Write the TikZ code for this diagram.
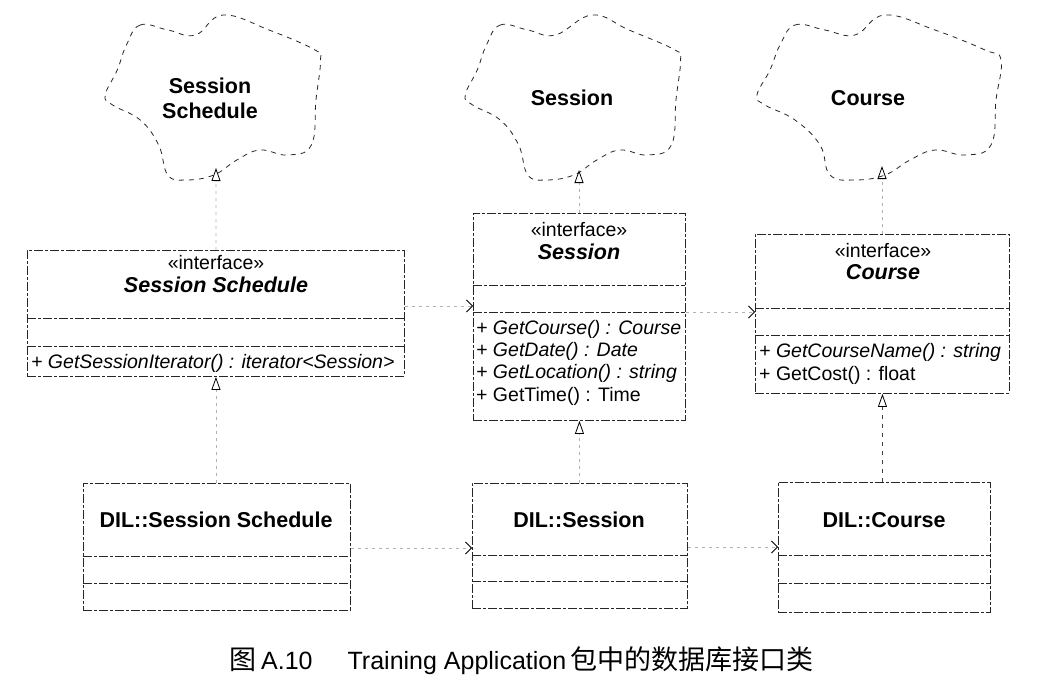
\documentclass[tikz,border=0pt]{standalone}
\usepackage{fontspec}
\setmainfont{Liberation Sans}
\newfontfamily\cjkfont{Noto Sans CJK SC}
\usetikzlibrary{arrows.meta,calc}
\begin{document}
\begin{tikzpicture}[x=1pt,y=-1pt,
  scanline/.style={draw=black!85, line width=0.9pt, dash pattern=on 9pt off 2pt on 3pt off 2pt},
  umlbox/.style={scanline, rectangle, anchor=north west, inner sep=0pt},
  cloudline/.style={draw=black!85, line width=0.8pt, dash pattern=on 5pt off 5pt},
  faint/.style={draw=black!30, line width=0.6pt, dash pattern=on 3pt off 4pt},
  realize/.style={faint, -{Triangle[open, length=13pt, width=9pt, color=black, line width=0.8pt]}},
  depend/.style={faint, -{Straight Barb[length=6pt, width=12pt, color=black, line width=0.8pt]}},
  stereo/.style={inner sep=0pt, font=\fontsize{19.5}{22}\selectfont},
  iname/.style={inner sep=0pt, font=\fontsize{21.5}{24}\selectfont\bfseries\itshape},
  cname/.style={inner sep=0pt, font=\fontsize{21.5}{25}\selectfont\bfseries, align=center},
  member/.style={inner sep=0pt, anchor=west, font=\fontsize{19.5}{22}\selectfont},
  caption/.style={inner sep=0pt, anchor=west, font=\fontsize{25}{28}\selectfont}
]
\useasboundingbox (0,0) rectangle (1040,690);

% ---------- clouds ----------
\begin{scope}[shift={(212,98)}, xscale=0.92]
  \draw[cloudline] plot[smooth cycle, tension=0.7] coordinates {(-93,-53) (-78,-73) (-48,-68) (-18,-63) (12,-83) (62,-68) (112,-48) (118,-38) (113,2) (108,47) (82,57) (52,52) (27,62) (2,77) (-28,82) (-48,77) (-58,47) (-78,22) (-108,7) (-116,-3) (-103,-28)};
\end{scope}
\begin{scope}[shift={(572,98)}, xscale=0.92]
  \draw[cloudline] plot[smooth cycle, tension=0.7] coordinates {(-93,-53) (-78,-73) (-48,-68) (-18,-63) (22,-83) (62,-68) (112,-48) (118,-38) (113,2) (108,47) (82,57) (52,52) (27,62) (2,77) (-28,82) (-48,77) (-58,47) (-78,22) (-108,7) (-116,-3) (-103,-28)};
\end{scope}
\begin{scope}[shift={(873,98)}]
  \draw[cloudline] plot[smooth cycle, tension=0.7] coordinates {(-93,-53) (-78,-73) (-48,-68) (-18,-63) (12,-83) (62,-68) (112,-48) (128,-38) (123,2) (118,47) (92,57) (62,52) (37,62) (12,77) (-18,82) (-43,77) (-53,47) (-78,22) (-108,7) (-116,-3) (-103,-28)};
\end{scope}
\node[cname] (cl1) at (210,98) {Session\\Schedule};
\node[cname] (cl2) at (572,98) {Session};
\node[cname] (cl3) at (868,98) {Course};
\coordinate (cl1b) at (216,168);
\coordinate (cl2b) at (579,170);
\coordinate (cl3b) at (882,166);

% ---------- interface Session Schedule ----------
\node[umlbox, minimum width=377pt, minimum height=126pt] (iss) at (27,250) {};
\node[stereo] (iss-st) at (216,263) {«interface»};
\node[iname] (iss-nm) at (216,285) {Session Schedule};
\draw[scanline] (27,318) -- (404,318);
\draw[scanline] (27,346) -- (404,346);
\node[member] (iss-m1) at (31,363) {\itshape + GetSessionIterator() : iterator<Session>};

% ---------- interface Session ----------
\node[umlbox, minimum width=212pt, minimum height=207pt] (ise) at (473,213) {};
\node[stereo] (ise-st) at (579,230) {«interface»};
\node[iname] (ise-nm) at (579,252) {Session};
\draw[scanline] (473,285) -- (685,285);
\draw[scanline] (473,312) -- (685,312);
\node[member] (ise-m1) at (476,329) {\itshape + GetCourse() : Course};
\node[member] (ise-m2) at (476,351) {\itshape + GetDate() : Date};
\node[member] (ise-m3) at (476,373) {\itshape + GetLocation() : string};
\node[member] (ise-m4) at (476,396) {+ GetTime() : Time};

% ---------- interface Course ----------
\node[umlbox, minimum width=254pt, minimum height=159pt] (ico) at (755,234) {};
\node[stereo] (ico-st) at (883,251) {«interface»};
\node[iname] (ico-nm) at (883,272) {Course};
\draw[scanline] (755,308) -- (1009,308);
\draw[scanline] (755,335) -- (1009,335);
\node[member] (ico-m1) at (759,352) {\itshape + GetCourseName() : string};
\node[member] (ico-m2) at (759,375) {+ GetCost() : float};

% ---------- DIL classes ----------
\node[umlbox, minimum width=267pt, minimum height=127pt] (dss) at (83,483) {};
\node[cname] (dss-nm) at (216,520) {DIL::Session Schedule};
\draw[scanline] (83,556) -- (350,556);
\draw[scanline] (83,583) -- (350,583);

\node[umlbox, minimum width=215pt, minimum height=125pt] (dse) at (472,483) {};
\node[cname] (dse-nm) at (579,520) {DIL::Session};
\draw[scanline] (472,555) -- (687,555);
\draw[scanline] (472,581) -- (687,581);

\node[umlbox, minimum width=212pt, minimum height=130pt] (dco) at (778,482) {};
\node[cname] (dco-nm) at (884,520) {DIL::Course};
\draw[scanline] (778,555) -- (990,555);
\draw[scanline] (778,583) -- (990,583);

% ---------- realizations (hollow triangles) ----------
\draw[realize] (iss.north) -- (cl1b);
\draw[realize] (ise.north -| cl2b) -- (cl2b);
\draw[realize] (ico.north -| cl3b) -- (cl3b);
\draw[realize] (dss.north -| iss.south) -- (iss.south);
\draw[realize] (dse.north -| ise.south) -- (ise.south);
\draw[realize, draw=black!75, dash pattern=on 4pt off 5pt] (dco.north -| ico.south) -- (ico.south);

% ---------- dependencies (open arrows) ----------
\draw[depend] (iss.east |- 0,306) -- (ise.west |- 0,306);
\draw[depend] (ise.east |- 0,312) -- (ico.west |- 0,312);
\draw[depend] (dss.east |- 0,548) -- (dse.west |- 0,548);
\draw[depend] (dse.east |- 0,547) -- (dco.west |- 0,547);

% ---------- caption ----------
\node[caption] (cap) at (229,661) {{\cjkfont\fontsize{27}{29}\selectfont 图}\hspace{5pt}A.10\hspace{35pt}Training Application\hspace{4pt}{\cjkfont\fontsize{27}{29}\selectfont 包中的数据库接口类}};
\end{tikzpicture}
\end{document}
